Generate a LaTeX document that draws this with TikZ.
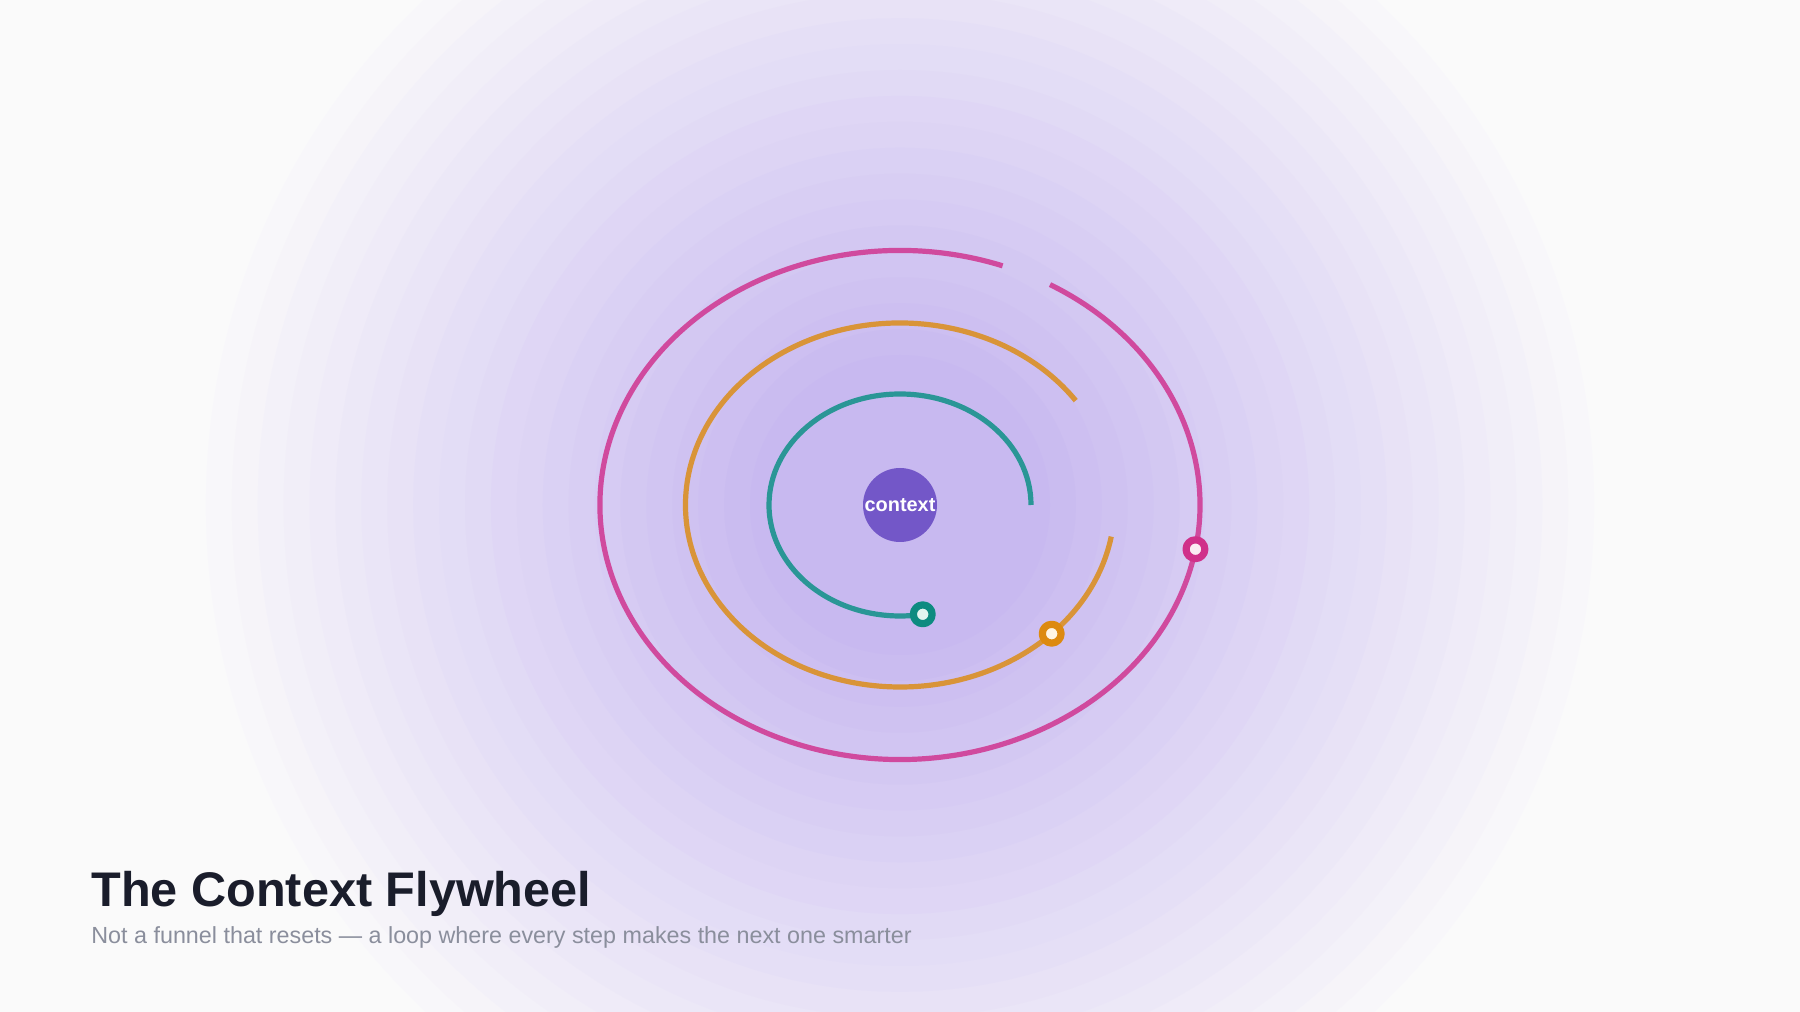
\documentclass[tikz,border=0pt]{standalone}
\usepackage{fontspec}
\setmainfont{Liberation Sans}
\definecolor{pagebg}{HTML}{FAFAFA}
\definecolor{glow}{HTML}{C8B9F0}
\definecolor{tealarc}{HTML}{2A9696}
\definecolor{tealdot}{HTML}{0D8B80}
\definecolor{tealfill}{HTML}{E2F5EF}
\definecolor{amberarc}{HTML}{D99438}
\definecolor{amberdot}{HTML}{DD8A10}
\definecolor{amberfill}{HTML}{FFF5E3}
\definecolor{pinkarc}{HTML}{D04A9E}
\definecolor{pinkdot}{HTML}{D0308A}
\definecolor{pinkfill}{HTML}{FBECF3}
\definecolor{ctxfill}{HTML}{7357C8}
\definecolor{titlecol}{HTML}{1A1D2B}
\definecolor{subcol}{HTML}{8A8E9C}
\begin{document}
\begin{tikzpicture}[>=latex,line join=bevel,
  orbit/.style={line width=2.6bp,line cap=butt},
  marker/.style={circle,draw,line width=3.6bp,inner sep=0pt,minimum size=9.4bp},
]
%%
\useasboundingbox (0bp,0bp) rectangle (900bp,506bp);
\fill [pagebg] (0bp,0bp) rectangle (900bp,506bp);
\begin{scope}
  \clip (0bp,0bp) rectangle (900bp,506bp);
  \foreach \i in {0,...,22} {
    \pgfmathsetmacro{\rad}{360-\i*285/22}
    \pgfmathsetmacro{\pct}{100*\i/22}
    \fill [glow!\pct!pagebg] (450.0bp,253.5bp) circle (\rad bp);
  }
\end{scope}
%% orbits
  \draw [orbit,tealarc] (515.5bp,253.5bp) arc [start angle=0,end angle=280,x radius=65.5bp,y radius=55.5bp];
  \draw [orbit,amberarc] (537.85bp,305.7bp) arc [start angle=35,end angle=350,x radius=107.25bp,y radius=91.0bp];
  \draw [orbit,pinkarc] (501.3bp,373.08bp) arc [start angle=70,end angle=420,x radius=150.0bp,y radius=127.25bp];
%% nodes
  \node (ctx) at (450.0bp,253.5bp) [circle,fill=ctxfill,inner sep=0pt,minimum size=37bp,text=white,font=\bfseries\fontsize{10}{12}\selectfont] {context};
  \node (tealend) at (461.37bp,198.84bp) [marker,draw=tealdot,fill=tealfill] {};
  \node (amberend) at (525.84bp,189.15bp) [marker,draw=amberdot,fill=amberfill] {};
  \node (pinkend) at (597.72bp,231.4bp) [marker,draw=pinkdot,fill=pinkfill] {};
%
  \node (title) at (45.5bp,52.6bp) [anchor=base west,inner sep=0pt,text=titlecol,font=\bfseries\fontsize{24.4}{28}\selectfont] {The Context Flywheel};
  \node (subtitle) at (45.5bp,34.5bp) [anchor=base west,inner sep=0pt,text=subcol,font=\fontsize{11.7}{14}\selectfont] {Not a funnel that resets — a loop where every step makes the next one smarter};
%
\end{tikzpicture}
\end{document}
